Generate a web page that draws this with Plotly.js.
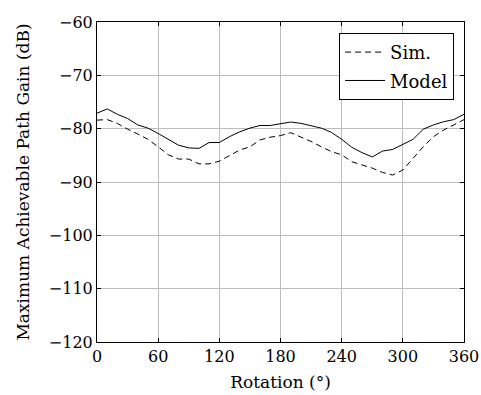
<!DOCTYPE html>
<html><head><meta charset="utf-8">
<script src="https://cdn.plot.ly/plotly-3.0.1.min.js"></script>
<style>html,body{margin:0;padding:0;background:#fff}#chart{width:481px;height:395px}</style>
</head><body><div id="chart"></div>
<script>
const rotation = [0,10,20,30,40,50,60,70,80,90,100,110,120,130,140,150,160,170,180,190,200,210,220,230,240,250,260,270,280,290,300,310,320,330,340,350,360];
const simGain = [-78.4,-78.3,-79.0,-80.1,-81.0,-82.0,-83.4,-84.9,-85.7,-85.7,-86.6,-86.6,-86.1,-85.1,-84.0,-83.4,-82.1,-81.6,-81.3,-80.75,-81.5,-82.4,-83.4,-84.3,-84.9,-86.2,-86.8,-87.4,-88.2,-88.7,-87.75,-85.6,-83.4,-81.5,-80.25,-79.3,-78.3];
const modelGain = [-77.1,-76.3,-77.3,-78.1,-79.3,-79.9,-80.9,-82.0,-83.1,-83.6,-83.7,-82.6,-82.6,-81.5,-80.6,-79.9,-79.4,-79.4,-79.1,-78.75,-79.0,-79.4,-79.9,-80.7,-82.0,-83.5,-84.5,-85.3,-84.2,-83.9,-82.9,-82.0,-80.1,-79.3,-78.7,-78.3,-77.3];
const seriesNames = ['Sim.', 'Model'];
const xTicks = [0,60,120,180,240,300,360];
const yTicks = [-120,-110,-100,-90,-80,-70,-60];

const fam = '"DejaVu Serif", "Liberation Serif", serif';
const tickFont = {family: fam, size: 16, color: '#000'};
const titleFont = {family: fam, size: 17, color: '#000'};
const legendFont = {family: fam, size: 18, color: '#000'};
const traces = [
  {x: rotation, y: simGain, name: seriesNames[0], legendgroup: 'a', mode: 'lines', line: {color: '#000', width: 1, dash: '6px,4px'}},
  {x: rotation, y: modelGain, name: seriesNames[1], legendgroup: 'b', mode: 'lines', line: {color: '#000', width: 1}}
];
const axisCommon = {showline: true, linecolor: '#000', linewidth: 1, mirror: 'ticks', ticks: 'inside', ticklen: 4, tickcolor: '#000', gridcolor: '#bdbdbd', gridwidth: 1, zeroline: false, tickfont: tickFont};
const layout = {
  width: 481, height: 395,
  margin: {l: 97, r: 17, t: 22, b: 53},
  paper_bgcolor: '#fff', plot_bgcolor: '#fff',
  font: tickFont,
  showlegend: true,
  legend: {x: 0.973, y: 0.966, xanchor: 'right', yanchor: 'top', bordercolor: '#000', borderwidth: 1, bgcolor: '#fff', font: legendFont, itemwidth: 40, tracegroupgap: 2, traceorder: 'grouped'},
  xaxis: Object.assign({}, axisCommon, {range: [0, 360], tickvals: xTicks, ticktext: xTicks.map(String), title: {text: 'Rotation (°)', font: titleFont, standoff: 10}}),
  yaxis: Object.assign({}, axisCommon, {range: [-120, -60], tickvals: yTicks, title: {text: 'Maximum Achievable Path Gain (dB)', font: titleFont, standoff: 14}})
};
Plotly.newPlot('chart', traces, layout, {displayModeBar: false, staticPlot: true});
</script></body></html>
